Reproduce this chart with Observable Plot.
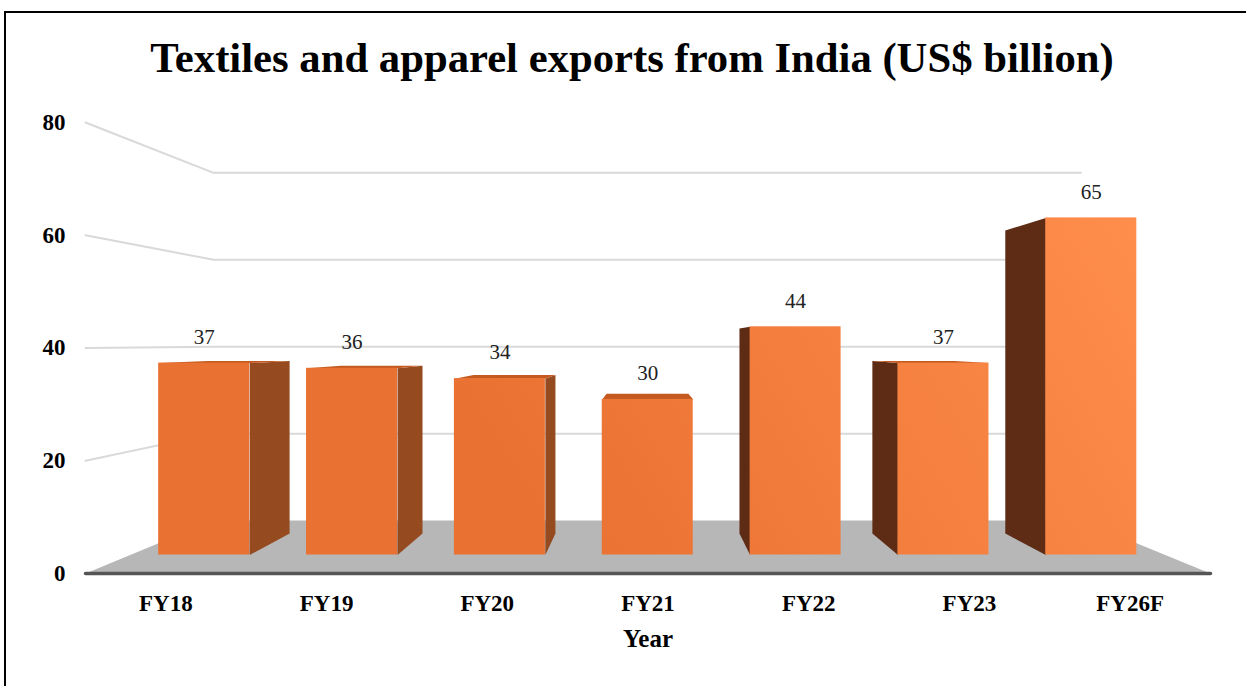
<!DOCTYPE html>
<html>
<head>
<meta charset="utf-8">
<script src="https://cdn.jsdelivr.net/npm/d3@7"></script>
<script src="https://cdn.jsdelivr.net/npm/@observablehq/plot@0.6"></script>
<style>
  html, body { margin: 0; padding: 0; background: #fff; }
  #wrap { position: relative; width: 1246px; height: 686px; overflow: hidden; font-family: "Liberation Serif", "Times New Roman", serif; }
  #frameTop { position: absolute; left: 5px; top: 11px; width: 1260px; height: 0; border-top: 2px solid #000; }
  #frameLeft { position: absolute; left: 4px; top: 11px; width: 0; height: 700px; border-left: 2px solid #000; }
  #title { position: absolute; left: 9px; top: 37px; width: 1246px; text-align: center; font-size: 42.7px; line-height: 42px; font-weight: bold; color: #000; white-space: nowrap; }
  #chart { position: absolute; left: 0; top: 100px; }
</style>
</head>
<body>
<div id="wrap">
  <div id="frameTop"></div>
  <div id="frameLeft"></div>
  <div id="title">Textiles and apparel exports from India (US$ billion)</div>
  <div id="chart"></div>
</div>
<script>
// ---- data ----
const years = ["FY18", "FY19", "FY20", "FY21", "FY22", "FY23", "FY26F"];
const exportsBn = [37, 36, 34, 30, 44, 37, 65];
const yTicks = [0, 20, 40, 60, 80];
const xTitle = "Year";

// ---- simple perspective projection (world -> front-plane data units) ----
const VX = 3.48;   // horizontal vanishing position (category slots)
const VY = 41;     // eye level (value units)
const S_FRONT = 0.92, S_BACK = 0.827, S_WALL = 0.771, HALF = 0.3077;
const P = (X, Y, s) => ({x: VX + (X - VX) * s, y: VY + (Y - VY) * s});
const n = years.length;

// gridlines on the wall
const grid = [];
yTicks.filter(v => v > 0).forEach(v => {
  [P(0, v, 1), P(0, v, S_WALL), P(n, v, S_WALL)].forEach(p => grid.push({...p, id: v}));
});
// floor
const floor = [P(0, 0, 1), P(n, 0, 1), P(n, 0, S_WALL), P(0, 0, S_WALL)];
const floorEdge = [P(0, 0, 1), P(n, 0, 1)];

// bars
const bars = years.map((yr, i) => {
  const v = exportsBn[i];
  const xc = i + 0.5;
  const a = P(xc - HALF, 0, S_FRONT), b = P(xc + HALF, v, S_FRONT), c = P(xc, v, S_FRONT);
  return {yr, v, xc, x1: a.x, x2: b.x, y1: a.y, y2: b.y, lx: c.x, ly: c.y};
});
const rightSides = [], leftSides = [], tops = [];
bars.forEach((d, i) => {
  if (d.xc < VX - 0.05) {
    const X = d.xc + HALF;
    [P(X, 0, S_FRONT), P(X, 0, S_BACK), P(X, d.v, S_BACK), P(X, d.v, S_FRONT)].forEach(p => rightSides.push({...p, id: i}));
  } else if (d.xc > VX + 0.05) {
    const X = d.xc - HALF;
    [P(X, 0, S_FRONT), P(X, 0, S_BACK), P(X, d.v, S_BACK), P(X, d.v, S_FRONT)].forEach(p => leftSides.push({...p, id: i}));
  }
  if (d.v < VY) {
    [P(d.xc - HALF, d.v, S_FRONT), P(d.xc + HALF, d.v, S_FRONT), P(d.xc + HALF, d.v, S_BACK), P(d.xc - HALF, d.v, S_BACK)].forEach(p => tops.push({...p, id: i}));
  }
});

const chart = Plot.plot({
  width: 1246,
  height: 586,
  marginLeft: 85,
  marginRight: 36,
  marginTop: 22,
  marginBottom: 113,
  style: {fontFamily: "'Liberation Serif', 'Times New Roman', serif", background: "transparent", color: "#000"},
  x: {domain: [0, n], axis: null},
  y: {domain: [0, 80], axis: null},
  marks: [
    Plot.line(grid, {x: "x", y: "y", z: "id", stroke: "#d9d9d9", strokeWidth: 2}),
    Plot.line(floor, {x: "x", y: "y", fill: "#b7b7b7", stroke: "none", curve: "linear-closed"}),
    Plot.line(floorEdge, {x: "x", y: "y", stroke: "#555", strokeWidth: 3.5}),
    Plot.axisY({ticks: yTicks, tickSize: 0, tickPadding: 20, fontSize: 23, fontWeight: "bold", label: null}),
    Plot.line(rightSides, {x: "x", y: "y", z: "id", fill: "#954a20", stroke: "none", curve: "linear-closed"}),
    Plot.line(leftSides, {x: "x", y: "y", z: "id", fill: "#5e2c14", stroke: "none", curve: "linear-closed"}),
    Plot.line(tops, {x: "x", y: "y", z: "id", fill: "#c45a20", stroke: "none", curve: "linear-closed"}),
    Plot.rect(bars, {x1: "x1", x2: "x2", y1: "y1", y2: "y2", fill: "url(#barGrad)"}),
    Plot.text(bars, {x: "lx", y: "ly", text: d => String(d.v), dy: -26, fontSize: 21, fill: "#222", lineAnchor: "middle"}),
    Plot.text(years, {x: (d, i) => i + 0.5, y: () => 0, text: d => d, dy: 30, fontSize: 23, fontWeight: "bold", lineAnchor: "middle"}),
    Plot.text([xTitle], {x: () => n / 2, y: () => 0, text: d => d, dy: 65, fontSize: 25, fontWeight: "bold", lineAnchor: "middle"})
  ]
});

const svg = d3.select(chart);
const defs = svg.insert("defs", ":first-child");
const g = defs.append("linearGradient").attr("id", "barGrad")
  .attr("gradientUnits", "userSpaceOnUse")
  .attr("x1", 560).attr("y1", 473).attr("x2", 1140).attr("y2", 120);
g.append("stop").attr("offset", "0%").attr("stop-color", "#e97132");
g.append("stop").attr("offset", "100%").attr("stop-color", "#ff8d4b");

document.getElementById("chart").appendChild(chart);
</script>
</body>
</html>
